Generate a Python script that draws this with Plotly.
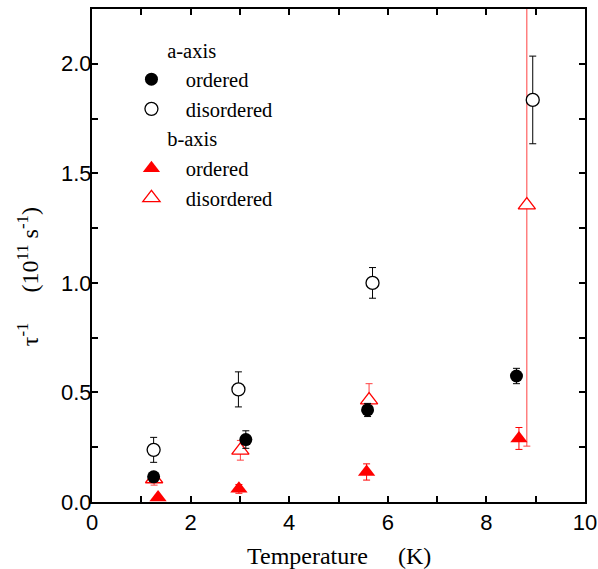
import plotly.graph_objects as go

# a-axis ordered
T_a_ord = [1.25, 3.12, 5.59, 8.61]
tau_a_ord = [0.115, 0.285, 0.42, 0.575]
err_a_ord = [0.02, 0.04, 0.03, 0.035]

# a-axis disordered
T_a_dis = [1.25, 2.97, 5.69, 8.94]
tau_a_dis = [0.238, 0.514, 1.0, 1.835]
err_a_dis = [0.057, 0.08, 0.07, 0.2]

# b-axis ordered
T_b_ord = [1.34, 2.98, 5.57, 8.66]
tau_b_ord = [0.02, 0.06, 0.137, 0.29]
err_b_ord = [0.01, 0.02, 0.037, 0.05]

# b-axis disordered
T_b_dis = [1.26, 3.01, 5.62, 8.82]
tau_b_dis = [0.105, 0.236, 0.465, 1.355]
err_b_dis_plus = [0.028, 0.045, 0.075, 1.1]
err_b_dis_minus = [0.028, 0.045, 0.05, 1.1]

SERIF = "Liberation Serif, Times New Roman, serif"
SANS = "Liberation Sans, Arial, sans-serif"
SP = "\u00a0"
PAD = SP * 2 + "\u2009"
LEG_FONT = 20.5

fig = go.Figure()

fig.add_trace(go.Scatter(
    x=T_b_dis, y=tau_b_dis, mode="markers", name=PAD + "disordered",
    legendgroup="b", legendrank=4,
    marker=dict(symbol="triangle-up", size=15, color="white", line=dict(color="red", width=1.3)),
    error_y=dict(type="data", array=err_b_dis_plus, arrayminus=err_b_dis_minus,
                 color="#ff4040", thickness=1, width=3.5),
))
fig.add_trace(go.Scatter(
    x=T_b_ord, y=tau_b_ord, mode="markers", name=PAD + "ordered",
    legendgroup="b", legendrank=3,
    legendgrouptitle=dict(text=SP * 6 + "b-axis", font=dict(family=SERIF, size=LEG_FONT, color="black")),
    marker=dict(symbol="triangle-up", size=15, color="red", line=dict(color="red", width=0)),
    error_y=dict(type="data", array=err_b_ord, color="red", thickness=1, width=3.5),
))
fig.add_trace(go.Scatter(
    x=T_a_dis, y=tau_a_dis, mode="markers", name=PAD + "disordered",
    legendgroup="a", legendrank=2,
    marker=dict(symbol="circle", size=13, color="white", line=dict(color="black", width=1.3)),
    error_y=dict(type="data", array=err_a_dis, color="black", thickness=1, width=3.5),
))
fig.add_trace(go.Scatter(
    x=T_a_ord, y=tau_a_ord, mode="markers", name=PAD + "ordered",
    legendgroup="a", legendrank=1,
    legendgrouptitle=dict(text=SP * 6 + "a-axis", font=dict(family=SERIF, size=LEG_FONT, color="black")),
    marker=dict(symbol="circle", size=13, color="black", line=dict(color="black", width=0)),
    error_y=dict(type="data", array=err_a_ord, color="black", thickness=1, width=3.5),
))

axis_common = dict(
    showgrid=False, zeroline=False, showline=True, linecolor="black", linewidth=2,
    mirror="ticks", ticks="inside", ticklen=6, tickwidth=1.5, tickcolor="black",
    tickfont=dict(family=SANS, size=22, color="black"), automargin=False,
)

fig.update_xaxes(range=[0, 10], dtick=2, tick0=0,
                 minor=dict(dtick=1, ticks="inside", ticklen=6, tickwidth=1.5, tickcolor="black"),
                 **axis_common)
fig.update_yaxes(range=[0, 2.25], dtick=0.5, tick0=0, tickformat=".1f", ticklabelstandoff=-6,
                 minor=dict(dtick=0.25, ticks="inside", ticklen=6, tickwidth=1.5, tickcolor="black"),
                 **axis_common)

fig.add_annotation(
    text="Temperature" + SP * 5 + "(K)", xref="paper", yref="paper", x=0.5, y=0,
    xanchor="center", yanchor="middle", yshift=-54, showarrow=False,
    font=dict(family=SERIF, size=24, color="black"),
)
fig.add_annotation(
    text="τ<sup>-1</sup>" + SP * 5 + "(10<sup>11</sup> s<sup>-1</sup>)", xref="paper", yref="paper",
    x=0, y=0.456, xanchor="center", yanchor="middle", xshift=-64, textangle=-90,
    showarrow=False, font=dict(family=SERIF, size=24, color="black"),
)

fig.update_layout(
    width=598, height=569,
    margin=dict(l=92, r=13, t=9, b=67),
    paper_bgcolor="white", plot_bgcolor="white",
    showlegend=True,
    legend=dict(
        x=0.08, y=0.958, xanchor="left", yanchor="top",
        bgcolor="rgba(0,0,0,0)", borderwidth=0,
        font=dict(family=SERIF, size=LEG_FONT, color="black"),
        tracegroupgap=0, itemwidth=30, traceorder="grouped",
    ),
)

fig.write_html("out.html")
